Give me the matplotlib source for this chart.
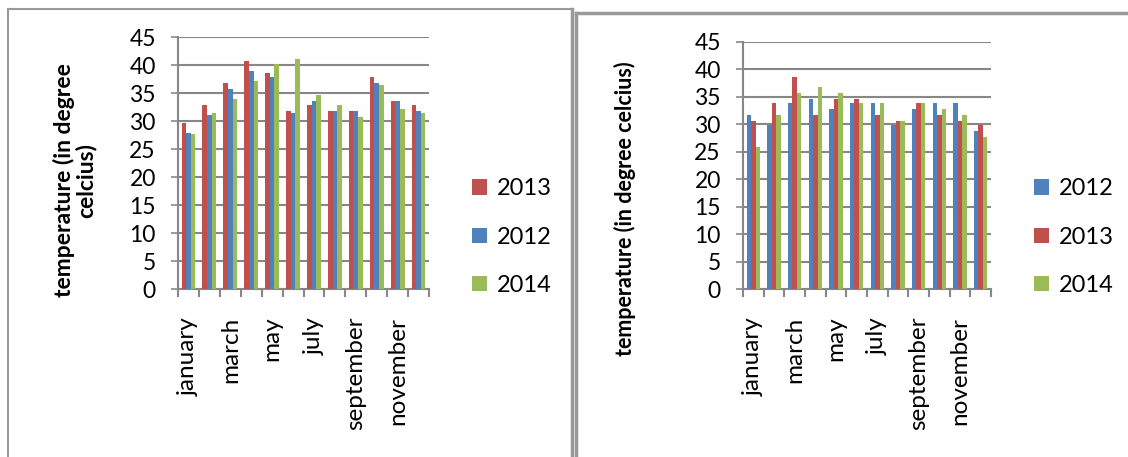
import matplotlib.pyplot as plt
import numpy as np
from matplotlib.lines import Line2D

plt.rcParams['font.family'] = ['Lato', 'DejaVu Sans']

months = ["january", "february", "march", "april", "may", "june",
          "july", "august", "september", "october", "november", "december"]

# left chart (legend order 2013, 2012, 2014)
left_2013 = [29.7, 32.9, 36.8, 40.8, 38.6, 31.8, 32.9, 31.8, 31.8, 37.9, 33.6, 32.9]
left_2012 = [27.9, 31.1, 35.8, 39.0, 37.9, 31.5, 33.6, 31.8, 31.8, 36.8, 33.6, 31.8]
left_2014 = [27.6, 31.5, 34.0, 37.2, 40.1, 41.1, 34.7, 32.9, 30.8, 36.5, 32.2, 31.5]

# right chart (legend order 2012, 2013, 2014)
right_2012 = [31.7, 29.9, 33.9, 34.6, 32.8, 33.9, 33.9, 29.9, 32.8, 33.9, 33.9, 28.8]
right_2013 = [30.6, 33.9, 38.6, 31.7, 34.6, 34.6, 31.7, 30.6, 33.9, 31.7, 30.6, 29.9]
right_2014 = [25.9, 31.7, 35.7, 36.8, 35.7, 33.9, 33.9, 30.6, 33.9, 32.8, 31.7, 27.7]

RED = '#C0504D'
BLUE = '#4F81BD'
GREEN = '#9BBB59'
GRID = '#878787'
FS = 16.5

W, H = 1128, 457
fig = plt.figure(figsize=(W / 100, H / 100), dpi=100)


def px(x0, y_top, x1, y_bot):
    return [x0 / W, 1 - y_bot / H, (x1 - x0) / W, (y_bot - y_top) / H]


def draw_chart(ax, series):
    x = np.arange(len(months))
    bw = 0.22
    for i, (vals, color, label) in enumerate(series):
        ax.bar(x + (i - 1) * bw, vals, bw, color=color, label=label, zorder=3)
    ax.set_xlim(-0.5, 11.5)
    ax.set_ylim(0, 45)
    ax.set_yticks(range(0, 50, 5))
    ax.grid(axis='y', color=GRID, lw=1.5, zorder=0)
    for s in ['top', 'right']:
        ax.spines[s].set_visible(False)
    for s in ['left', 'bottom']:
        ax.spines[s].set_color(GRID)
        ax.spines[s].set_linewidth(1.5)
    ax.tick_params(axis='y', length=5, width=1.2, color=GRID, pad=11, labelsize=FS)
    ax.set_xticks(x[::2])
    ax.set_xticklabels(months[::2], rotation=90, fontsize=17.5, va='top', ha='center')
    ax.set_xticks(np.arange(-0.5, 12, 1), minor=True)
    ax.tick_params(axis='x', which='major', length=0, pad=20)
    ax.tick_params(axis='x', which='minor', length=6, width=1.5, color=GRID)


ax1 = fig.add_axes(px(178, 37, 429, 289))
draw_chart(ax1, [(left_2013, RED, '2013'), (left_2012, BLUE, '2012'), (left_2014, GREEN, '2014')])
ax2 = fig.add_axes(px(743, 42, 991, 289))
draw_chart(ax2, [(right_2012, BLUE, '2012'), (right_2013, RED, '2013'), (right_2014, GREEN, '2014')])

fig.text(75 / W, 1 - 180 / H, 'temperature (in degree\ncelcius)', rotation=90,
         ha='center', va='center', fontsize=FS, fontweight='bold',
         multialignment='center', linespacing=1.0)
fig.text(625 / W, 1 - 209 / H, 'temperature (in degree celcius)', rotation=90,
         ha='center', va='center', fontsize=FS - 1, fontweight='bold')

for ax, lx in [(ax1, 472), (ax2, 1034)]:
    h, l = ax.get_legend_handles_labels()
    fig.legend(h, l, loc='center left', bbox_to_anchor=(lx / W, 1 - 237 / H),
               frameon=False, fontsize=17, handlelength=0.62, handleheight=0.62,
               handletextpad=0.45, labelspacing=1.15, borderpad=0, borderaxespad=0)

# panel borders
def fline(xs, ys, lw=1.5, color='#999999'):
    fig.add_artist(Line2D([v / W for v in xs], [1 - v / H for v in ys],
                          lw=lw, color=color, transform=fig.transFigure))

fline([8, 8], [9, 457])
fline([8, 572], [9, 9])
fline([572, 572], [9, 457], lw=2.5)
fline([576, 576], [13, 457], lw=2.5)
fline([576, 1128], [13, 13], lw=2.5)

fig.savefig('out.png', dpi=100)
